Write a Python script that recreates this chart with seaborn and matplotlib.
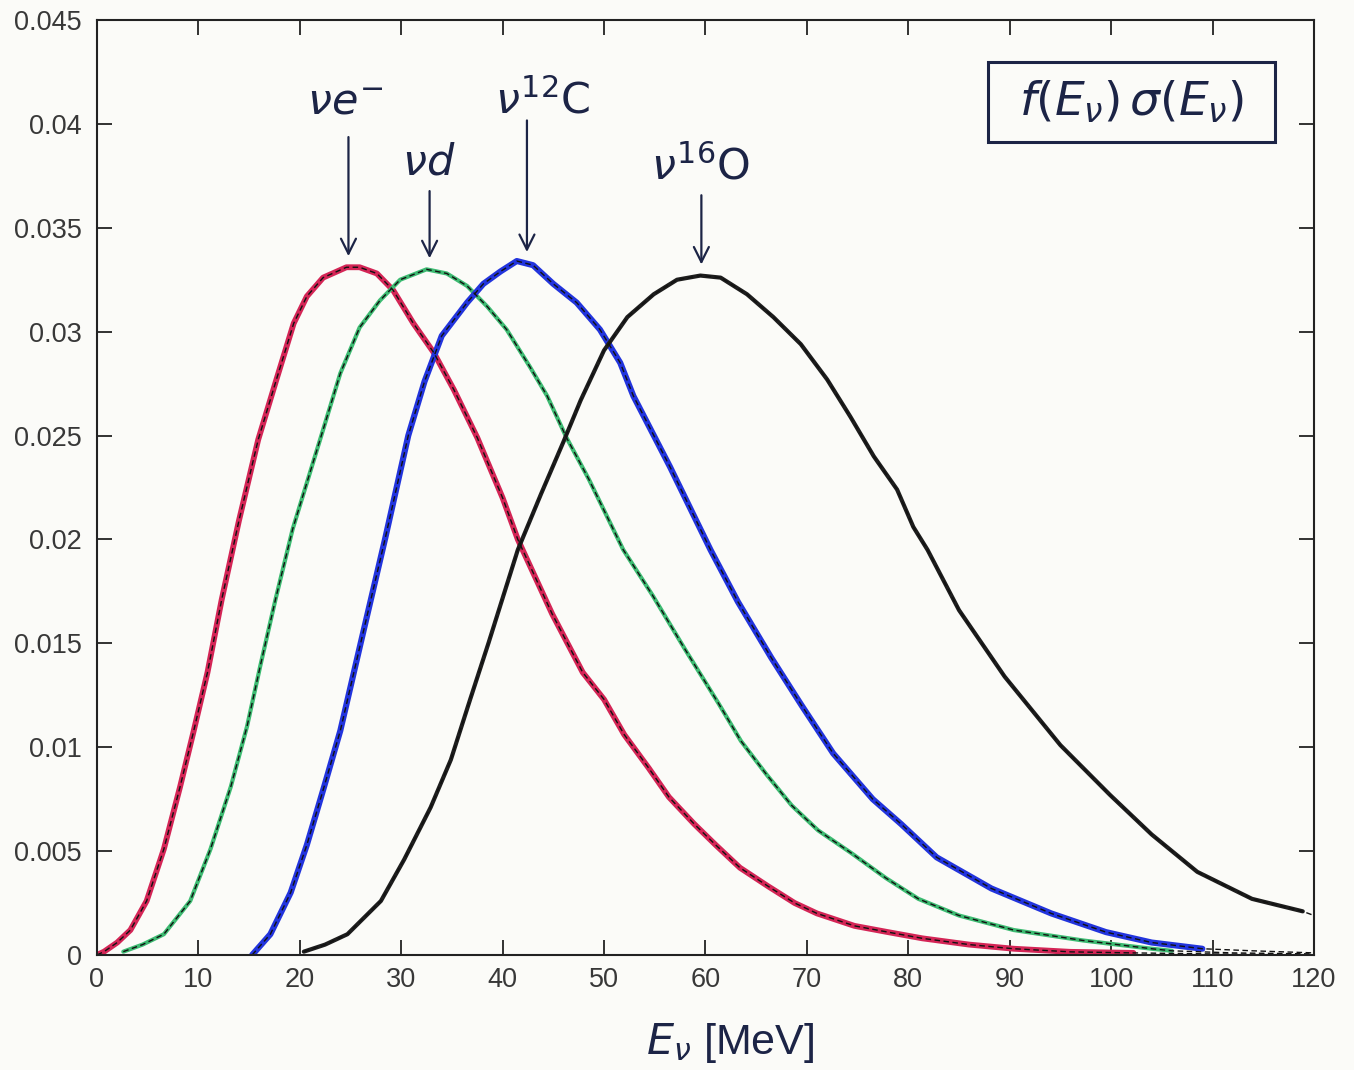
import numpy as np
import pandas as pd
import matplotlib
matplotlib.use("Agg")
import matplotlib.pyplot as plt
from matplotlib.patches import Rectangle
import seaborn as sns

# Folded spectrum f(E) * sigma(E) for four neutrino reactions
e_nue = [0, 0.7, 2.0, 3.3, 4.9, 6.6, 8.2, 9.5, 10.9, 12.3, 14.0, 15.9, 17.7, 19.4, 20.7,
         22.3, 24.6, 25.9, 27.6, 29.2, 31.2, 33.2, 35.2, 37.5, 40, 41.5, 44.9, 47.9, 50,
         52, 54.4, 56.4, 58.9, 61, 63.4, 66.2, 68.8, 71, 74.7, 78, 81.4, 86, 90.4, 96,
         102.2]
v_nue = [0, 0.00016, 0.0006, 0.0012, 0.0026, 0.0051, 0.0081, 0.0107, 0.0136, 0.0171,
         0.0209, 0.0248, 0.0277, 0.0304, 0.0317, 0.0326, 0.0331, 0.0331, 0.0328, 0.0320,
         0.0304, 0.0290, 0.0272, 0.0249, 0.0220, 0.0200, 0.0164, 0.0136, 0.0123, 0.0106,
         0.0090, 0.0076, 0.0063, 0.0053, 0.0042, 0.0033, 0.0025, 0.0020, 0.0014, 0.0011,
         0.0008, 0.0005, 0.0003, 0.00015, 0.0001]

e_nud = [2.6, 4.5, 6.6, 9.2, 11.2, 13.2, 14.8, 16.1, 17.6, 19.3, 22.0, 24.0, 25.9, 27.9,
         29.9, 32.5, 34.5, 36.5, 38.5, 40.4, 42.7, 44.4, 46.3, 48.5, 51.9, 54.8, 58, 61.3,
         63.5, 66, 68.5, 71.1, 74.4, 77.8, 81, 85, 90.4, 97.2, 104, 106]
v_nud = [0.00016, 0.0005, 0.001, 0.0026, 0.0051, 0.0081, 0.011, 0.0139, 0.0171, 0.0205,
         0.0248, 0.0280, 0.0302, 0.0315, 0.0325, 0.0330, 0.0328, 0.0322, 0.0312, 0.0301,
         0.0283, 0.0269, 0.0249, 0.0229, 0.0195, 0.0173, 0.0147, 0.0121, 0.0103, 0.0087,
         0.0072, 0.0060, 0.0049, 0.0037, 0.0027, 0.0019, 0.0012, 0.0007, 0.0003, 0.0002]

e_c12 = [15.3, 17.1, 19.1, 20.7, 22.4, 24.0, 26.0, 28.4, 30.7, 32.3, 34.0, 36.5,
         38.1, 39.8, 41.4, 43.0, 45.0, 47.3, 49.6, 51.6, 52.9, 56.5, 60.5, 63.2, 66.5,
         69.5, 72.6, 76.5, 79.3, 82.8, 88.2, 94.1, 99.5, 104, 109]
v_c12 = [0, 0.001, 0.003, 0.0053, 0.0081, 0.0108, 0.0150, 0.0200, 0.0250, 0.0276, 0.0298,
         0.0314, 0.0323, 0.0329, 0.0334, 0.0332, 0.0323, 0.0314, 0.0301, 0.0285,
         0.0269, 0.0235, 0.0195, 0.0170, 0.0143, 0.0120, 0.0097, 0.0075, 0.0063, 0.0047,
         0.0032, 0.0020, 0.0011, 0.0006, 0.0003]

e_o16 = [20.4, 22.5, 24.7, 28.0, 30.3, 32.9, 34.9, 36.8, 38.6, 41.5, 43.8, 46.0, 47.7,
         50.0, 52.3, 54.9, 57.2, 59.5, 61.5, 64.1, 66.7, 69.4, 72.0, 74.3, 76.6, 78.9,
         80.5, 81.9, 85, 89.5, 95, 99.9, 104, 108.5, 113.9, 118.9]
v_o16 = [0.00016, 0.0005, 0.0010, 0.0026, 0.0046, 0.0071, 0.0094, 0.0123, 0.0150, 0.0195,
         0.0222, 0.0247, 0.0267, 0.0291, 0.0307, 0.0318, 0.0325, 0.0327, 0.0326, 0.0318,
         0.0307, 0.0294, 0.0277, 0.0259, 0.0240, 0.0224, 0.0206, 0.0195, 0.0166, 0.0134,
         0.0101, 0.0077, 0.0058, 0.0040, 0.0027, 0.0021]

# fitted curves continue past the end of each simulated spectrum
tail_nue = ([110, 120], [0.00005, 0.00002])
tail_nud = ([112, 120], [0.0001, 0.00005])
tail_c12 = ([114, 120], [0.0002, 0.0001])
tail_o16 = ([120], [0.0019])

labels = ["nue", "nud", "c12", "o16"]
colors = ["#d42556", "#3dbb72", "#2234dd", "#1d1d1d"]
widths = [4.2, 3.0, 4.4, 3.0]

x_ticks = list(range(0, 121, 10))
y_ticks = [0, 0.005, 0.01, 0.015, 0.02, 0.025, 0.03, 0.035, 0.04, 0.045]
y_tick_labels = ["0", "0.005", "0.01", "0.015", "0.02", "0.025", "0.03", "0.035",
                 "0.04", "0.045"]

sns.set_theme(style="ticks")
plt.rcParams["font.family"] = ["Liberation Sans", "DejaVu Sans"]
plt.rcParams["mathtext.fontset"] = "dejavusans"

fig = plt.figure(figsize=(13.54, 10.70), dpi=100)
fig.patch.set_facecolor("#fbfbf8")
ax = fig.add_axes([0.0716, 0.1075, 0.8988, 0.8738])
ax.set_facecolor("#fbfbf8")

series = [(e_nue, v_nue, tail_nue), (e_nud, v_nud, tail_nud),
          (e_c12, v_c12, tail_c12), (e_o16, v_o16, tail_o16)]

for (ex, vy, tail), name, col, lw in zip(series, labels, colors, widths):
    df = pd.DataFrame({"E": ex, "val": vy})
    sns.lineplot(data=df, x="E", y="val", ax=ax, color=col, lw=lw,
                 estimator=None, sort=False, solid_capstyle="round",
                 solid_joinstyle="round")

for (ex, vy, tail), name in zip(series, labels):
    fit = pd.DataFrame({"E": list(ex) + list(tail[0]), "val": list(vy) + list(tail[1])})
    sns.lineplot(data=fit, x="E", y="val", ax=ax, color="#111111", lw=1.0,
                 estimator=None, sort=False, linestyle=(0, (4, 2.5)))

ax.set_xlim(0, 120)
ax.set_ylim(0, 0.045)
ax.set_xticks(x_ticks)
ax.set_xticklabels([str(t) for t in x_ticks])
ax.set_yticks(y_ticks)
ax.set_yticklabels(y_tick_labels)
ax.tick_params(direction="in", length=11, width=1.3, top=True, right=True,
               labelsize=19.5, labelcolor="#383838", color="#222222")
ax.tick_params(axis="y", pad=11)
ax.tick_params(axis="x", pad=9)
for s in ax.spines.values():
    s.set_visible(True)
    s.set_linewidth(1.5)
    s.set_color("#222222")
ax.set_xlabel("")
ax.set_ylabel("")

ink = "#1c2446"
# reaction labels with arrows pointing to each peak
notes = [(r"$\nu e^{-}$", 24.5, 0.0410, 24.8, 0.0395, 0.0335),
         (r"$\nu d$", 32.7, 0.0381, 32.8, 0.0369, 0.0334),
         (r"$\nu^{12}\mathrm{C}$", 43.9, 0.0411, 42.4, 0.0403, 0.0337),
         (r"$\nu^{16}\mathrm{O}$", 59.5, 0.0379, 59.6, 0.0367, 0.0331)]
for txt, tx, ty, ax_x, y0, y1 in notes:
    ax.text(tx, ty, txt, fontsize=31, color=ink, ha="center", va="center")
    ax.annotate("", xy=(ax_x, y1), xytext=(ax_x, y0),
                arrowprops=dict(arrowstyle="->,head_length=0.9,head_width=0.45",
                                color=ink, lw=1.6))

ax.add_patch(Rectangle((0.732, 0.8695), 0.236, 0.0855, transform=ax.transAxes,
                       fill=False, edgecolor=ink, lw=2.2))
ax.text(0.85, 0.912, r"$f(E_\nu)\,\sigma(E_\nu)$", transform=ax.transAxes,
        fontsize=34, color=ink, ha="center", va="center")

fig.text(730 / 1354, 1 - 1043 / 1070, r"$E_\nu$ [MeV]", fontsize=31, color=ink,
         ha="center", va="center")

fig.savefig("out.png", dpi=100, facecolor=fig.get_facecolor())
